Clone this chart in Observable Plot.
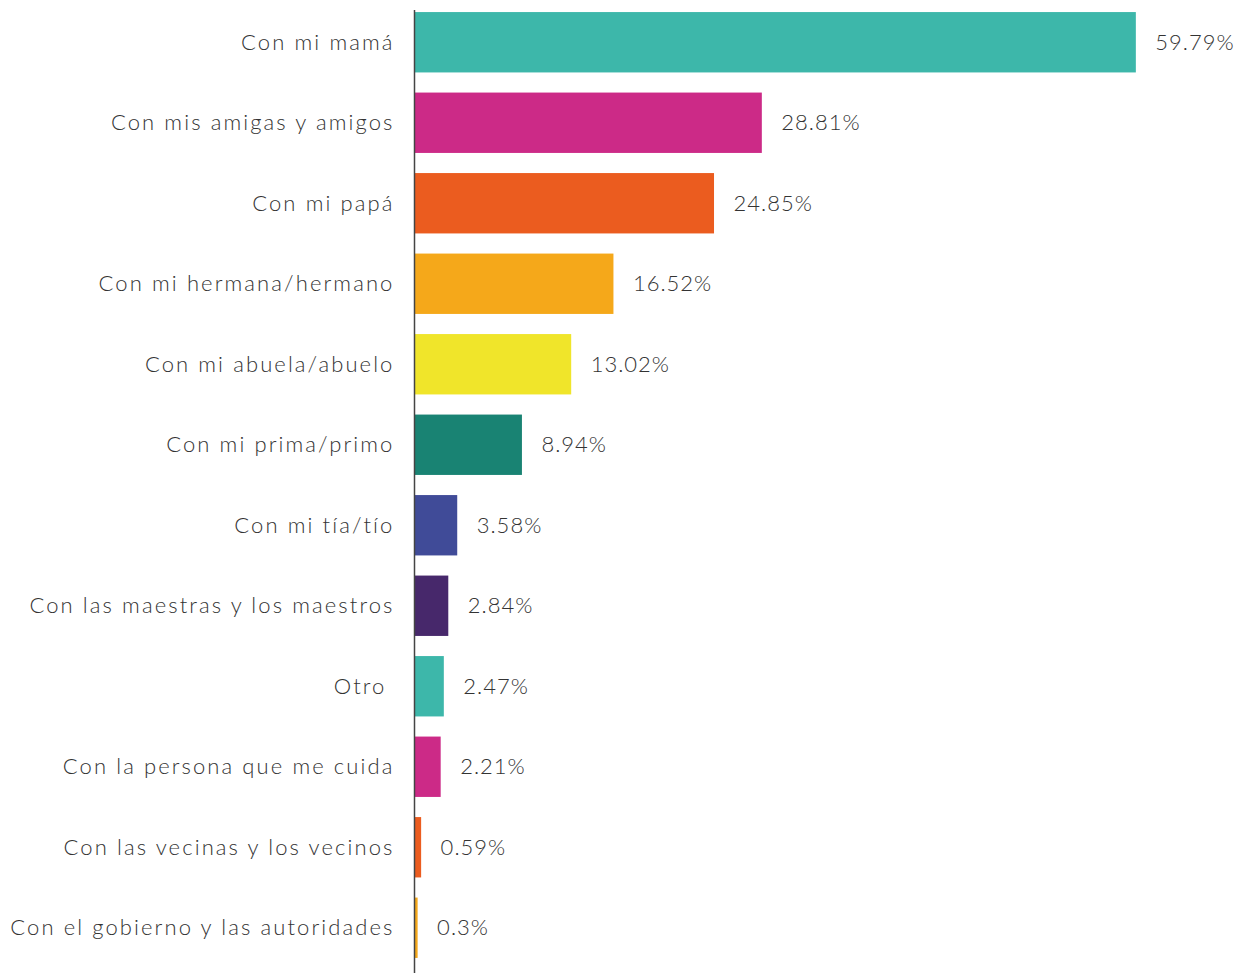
<!DOCTYPE html>
<html>
<head>
<meta charset="utf-8">
<script src="https://cdn.jsdelivr.net/npm/d3@7"></script>
<script src="https://cdn.jsdelivr.net/npm/@observablehq/plot@0.6"></script>
<style>
  html, body { margin: 0; padding: 0; background: #fff; }
  #chart svg { display: block; }
  #chart svg g[aria-label="y-axis tick label"] text { letter-spacing: 2.1px; }
</style>
</head>
<body>
<div id="chart"></div>
<script>
const categories = [
  "Con mi mamá",
  "Con mis amigas y amigos",
  "Con mi papá",
  "Con mi hermana/hermano",
  "Con mi abuela/abuelo",
  "Con mi prima/primo",
  "Con mi tía/tío",
  "Con las maestras y los maestros",
  "Otro ",
  "Con la persona que me cuida",
  "Con las vecinas y los vecinos",
  "Con el gobierno y las autoridades"
];
const values = [59.79, 28.81, 24.85, 16.52, 13.02, 8.94, 3.58, 2.84, 2.47, 2.21, 0.59, 0.3];
const valueLabels = ["59.79%", "28.81%", "24.85%", "16.52%", "13.02%", "8.94%", "3.58%", "2.84%", "2.47%", "2.21%", "0.59%", "0.3%"];
const colors = ["#3db7aa", "#cc2a87", "#eb5c1f", "#f5a81a", "#f0e52a", "#198373", "#404b98", "#47286b", "#3db7aa", "#cc2a87", "#eb5c1f", "#f5a81a"];

const data = categories.map((c, i) => ({cat: c, value: values[i], label: valueLabels[i]}));

const chart = Plot.plot({
  width: 1241,
  height: 973,
  marginLeft: 414,
  marginRight: 0,
  marginTop: 10,
  marginBottom: 0,
  style: {fontFamily: "Lato, 'Open Sans', sans-serif", fontSize: "22px", fontWeight: 300, color: "#333", letterSpacing: "1px"},
  x: {domain: [0, 68.5], axis: null},
  y: {domain: categories, range: [2, 968], round: false, paddingInner: 0.25, paddingOuter: 0.125, label: null, tickSize: 0, tickPadding: 20},
  color: {domain: categories, range: colors},
  marks: [
    Plot.barX(data, {x: "value", y: "cat", fill: "cat"}),
    Plot.ruleX([0], {stroke: "#444", strokeWidth: 1.5}),
    Plot.text(data, {x: "value", y: "cat", text: "label", textAnchor: "start", dx: 19, fill: "#333"})
  ]
});
document.getElementById("chart").appendChild(chart);
</script>
</body>
</html>
